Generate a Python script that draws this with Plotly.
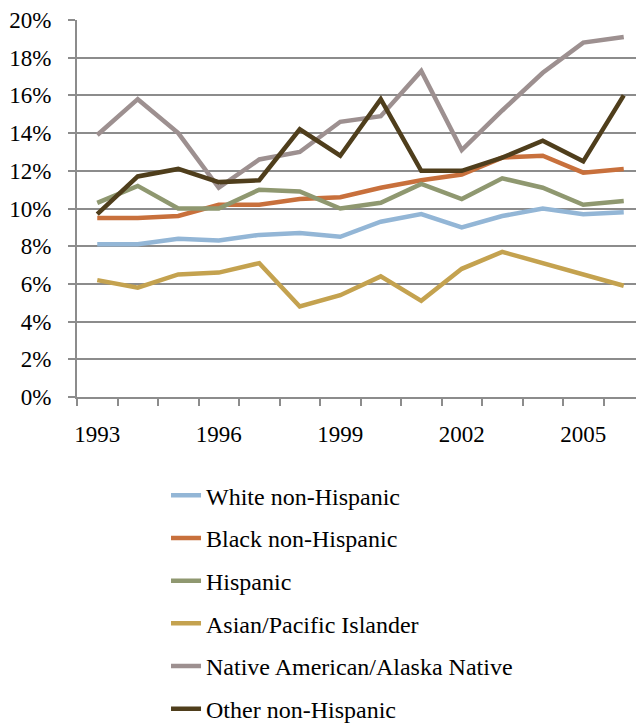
import plotly.graph_objects as go

years = list(range(1993, 2007))
white = [8.1, 8.1, 8.4, 8.3, 8.6, 8.7, 8.5, 9.3, 9.7, 9.0, 9.6, 10.0, 9.7, 9.8]
black = [9.5, 9.5, 9.6, 10.2, 10.2, 10.5, 10.6, 11.1, 11.5, 11.8, 12.7, 12.8, 11.9, 12.1]
hispanic = [10.3, 11.2, 10.0, 10.0, 11.0, 10.9, 10.0, 10.3, 11.3, 10.5, 11.6, 11.1, 10.2, 10.4]
asian = [6.2, 5.8, 6.5, 6.6, 7.1, 4.8, 5.4, 6.4, 5.1, 6.8, 7.7, 7.1, 6.5, 5.9]
native = [13.9, 15.8, 14.0, 11.1, 12.6, 13.0, 14.6, 14.9, 17.3, 13.1, 15.2, 17.2, 18.8, 19.1]
other = [9.7, 11.7, 12.1, 11.4, 11.5, 14.2, 12.8, 15.8, 12.0, 12.0, 12.7, 13.6, 12.5, 16.0]

names = ["White non-Hispanic", "Black non-Hispanic", "Hispanic",
         "Asian/Pacific Islander", "Native American/Alaska Native", "Other non-Hispanic"]
colors = ["#93B6D6", "#C8703C", "#8F9870", "#C4A24F", "#9D9090", "#4F3E1C"]
series = [white, black, hispanic, asian, native, other]

fig = go.Figure()
for i in range(len(series)):
    fig.add_trace(go.Scatter(x=years, y=series[i], name=names[i], mode="lines",
                             legendgroup=str(i),
                             line=dict(color=colors[i], width=4.5)))

grid = "#8C8C8C"
serif = "Times New Roman"
# page body has an 8px margin -> shift everything; extra height lets the
# legend fit without plotly squeezing the plot area (bottom falls off-screen)
fig.update_layout(
    width=636, height=760,
    margin=dict(l=69, r=0, t=12, b=371),
    plot_bgcolor="white", paper_bgcolor="white",
    font=dict(family=serif, size=23, color="black"),
    showlegend=True,
    legend=dict(x=0.157, xanchor="left", y=-0.202, yanchor="top",
                tracegroupgap=8.5, font=dict(family=serif, size=24)),
)
fig.update_xaxes(range=[1992.5, 2006.5], tickvals=[1993, 1996, 1999, 2002, 2005],
                 ticks="", showgrid=False, showline=True, linecolor=grid, linewidth=2,
                 ticklabelstandoff=15, automargin=False,
                 tickfont=dict(family=serif, size=23),
                 minor=dict(ticks="outside", tick0=1992.5, dtick=1, ticklen=7,
                            tickcolor=grid, tickwidth=2, showgrid=False))
fig.update_yaxes(range=[0, 20], dtick=2, ticksuffix="%", showgrid=True, gridcolor=grid,
                 gridwidth=2, zeroline=False, showline=True, linecolor=grid, linewidth=2,
                 ticks="outside", ticklen=7, tickcolor=grid, tickwidth=2,
                 ticklabelstandoff=12, automargin=False,
                 tickfont=dict(family=serif, size=23))

fig.write_html("out.html")
